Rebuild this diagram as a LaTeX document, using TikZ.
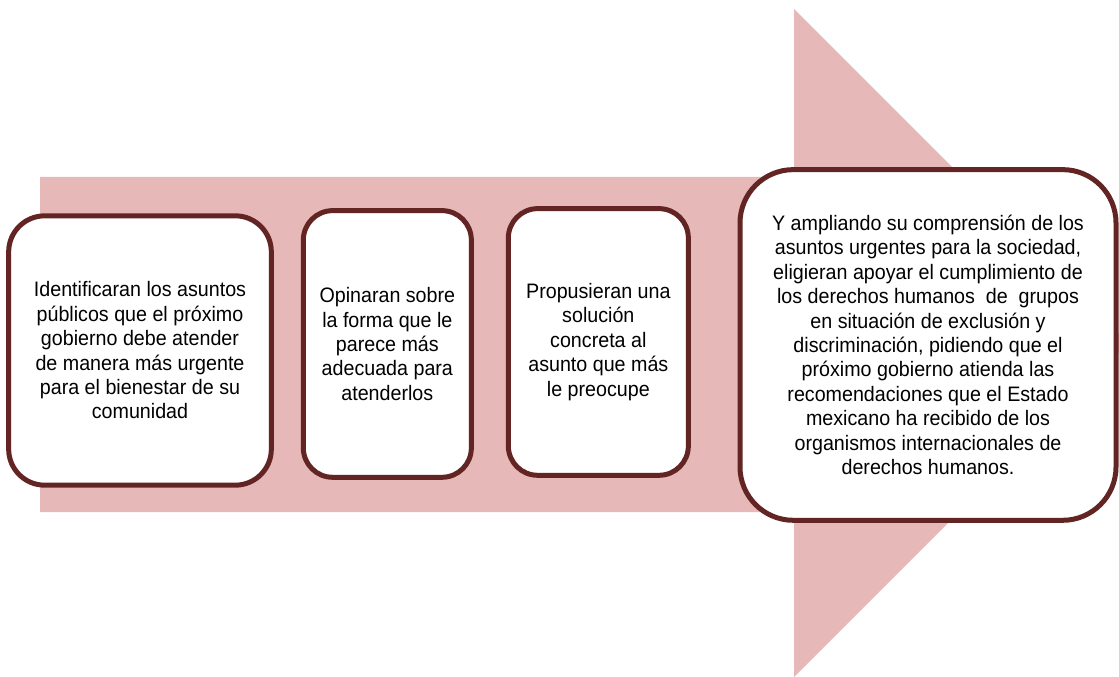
\documentclass[tikz,border=0pt]{standalone}
\usepackage[dvipsnames]{xcolor}
\usepackage{fontspec}
\setmainfont{Liberation Sans}[FakeStretch=0.94]
\usetikzlibrary{positioning}

\definecolor{arrowpink}{HTML}{E6B8B7}
\definecolor{boxline}{HTML}{632523}

\begin{document}
\begin{tikzpicture}[x=0.75pt,y=-0.75pt,node distance=20pt,
    stage box/.style={draw=boxline,fill=white,line width=3.75pt,align=center,inner sep=0pt,
        font=\fontsize{15.7}{18.3}\selectfont}]

            \useasboundingbox (0,0) rectangle (1119,677);
            \clip (0,0) rectangle (1119,677);

            % big arrow behind the boxes
            \fill[arrowpink] (40,177) -- (794,177) -- (794,9) -- (1128,343) -- (794,677)
                -- (794,512) -- (40,512) -- cycle;

            \node[stage box, rounded corners=27pt, minimum width=197pt, minimum height=202pt]  (1) at (140,350.5)
                {Identificaran los asuntos\\públicos que el próximo\\gobierno debe atender\\de manera más urgente\\para el bienestar de su\\comunidad};
            \node[stage box, rounded corners=22pt, minimum width=126pt, minimum height=200pt]  (2) [right=20.25pt of 1, yshift=4.9pt]
                {Opinaran sobre\\la forma que le\\parece más\\adecuada para\\atenderlos};
            \node[stage box, rounded corners=22pt, minimum width=135pt, minimum height=200pt]  (3) [right=24pt of 2, yshift=1.5pt]
                {Propusieran una\\solución\\concreta al\\asunto que más\\le preocupe};
            \node[stage box, rounded corners=40pt, minimum width=282pt, minimum height=263pt]  (4) [right=35pt of 3, yshift=-2.25pt]
                {Y ampliando su comprensión de los\\asuntos urgentes para la sociedad,\\eligieran apoyar el cumplimiento de\\los derechos humanos\ \ de\ \ grupos\\en situación de exclusión y\\discriminación, pidiendo que el\\próximo gobierno atienda las\\recomendaciones que el Estado\\mexicano ha recibido de los\\organismos internacionales de\\derechos humanos.};

        \end{tikzpicture}
\end{document}
